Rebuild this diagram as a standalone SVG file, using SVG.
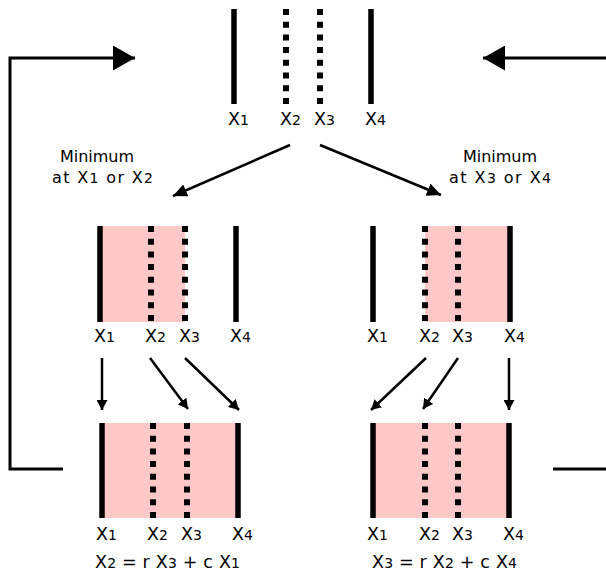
<svg xmlns="http://www.w3.org/2000/svg" width="606" height="577" viewBox="0 0 606 577">
  <style>
    .solid { stroke: #000; stroke-width: 5.5; fill: none; }
    .dot { stroke: #000; stroke-width: 6; fill: none; stroke-dasharray: 6 6.7; }
    .band { fill: #ffc8c8; }
    .lbl { font-family: "DejaVu Sans", "Liberation Sans", sans-serif; font-size: 17.5px; fill: #000; }
    .sub { font-size: 14px; }
    .note { font-family: "DejaVu Sans", "Liberation Sans", sans-serif; font-size: 16px; fill: #000; }
    .conn { stroke: #000; stroke-width: 2.5; fill: none; }
    .loop { stroke: #000; stroke-width: 3; fill: none; }
  </style>
  <defs>
    <marker id="head-s" markerUnits="userSpaceOnUse" markerWidth="11" markerHeight="11" refX="10" refY="5.5" orient="auto">
      <path d="M0,0 L10,5.5 L0,11 z" fill="#000"/>
    </marker>
    <marker id="head-m" markerUnits="userSpaceOnUse" markerWidth="15" markerHeight="13" refX="14" refY="6.5" orient="auto">
      <path d="M0,0 L14,6.5 L0,13 z" fill="#000"/>
    </marker>
    <marker id="head-l" markerUnits="userSpaceOnUse" markerWidth="23" markerHeight="25" refX="22" refY="12.5" orient="auto">
      <path d="M0,0 L22,12.5 L0,25 z" fill="#000"/>
    </marker>
  </defs>

  <!-- initial bracket: four probe points -->
  <g id="start">
    <line class="solid" x1="234" y1="9" x2="234" y2="104"/>
    <line class="dot" x1="286" y1="9" x2="286" y2="104"/>
    <line class="dot" x1="320" y1="9" x2="320" y2="104"/>
    <line class="solid" x1="371" y1="9" x2="371" y2="104"/>
    <text class="lbl" x="228" y="125">X<tspan class="sub">1</tspan></text>
    <text class="lbl" x="280" y="125">X<tspan class="sub">2</tspan></text>
    <text class="lbl" x="314" y="125">X<tspan class="sub">3</tspan></text>
    <text class="lbl" x="365" y="125">X<tspan class="sub">4</tspan></text>
  </g>

  <g id="case-left">
    <text class="note" x="97" y="162" text-anchor="middle">Minimum</text>
    <text class="note" x="52" y="183" textLength="101" lengthAdjust="spacing">at X<tspan class="sub">1</tspan> or X<tspan class="sub">2</tspan></text>
  </g>
  <g id="case-right">
    <text class="note" x="500" y="162" text-anchor="middle">Minimum</text>
    <text class="note" x="449" y="183" textLength="102" lengthAdjust="spacing">at X<tspan class="sub">3</tspan> or X<tspan class="sub">4</tspan></text>
  </g>

  <!-- kept interval [X1, X3] -->
  <g id="keep-left">
    <rect class="band" x="100" y="226" width="85" height="96"/>
    <line class="solid" x1="100" y1="226" x2="100" y2="322"/>
    <line class="dot" x1="151" y1="226" x2="151" y2="322"/>
    <line class="dot" x1="185" y1="226" x2="185" y2="322"/>
    <line class="solid" x1="236" y1="226" x2="236" y2="322"/>
    <text class="lbl" x="94" y="342">X<tspan class="sub">1</tspan></text>
    <text class="lbl" x="145" y="342">X<tspan class="sub">2</tspan></text>
    <text class="lbl" x="179" y="342">X<tspan class="sub">3</tspan></text>
    <text class="lbl" x="230" y="342">X<tspan class="sub">4</tspan></text>
  </g>

  <!-- kept interval [X2, X4] -->
  <g id="keep-right">
    <rect class="band" x="425" y="226" width="85" height="96"/>
    <line class="solid" x1="373" y1="226" x2="373" y2="322"/>
    <line class="dot" x1="425" y1="226" x2="425" y2="322"/>
    <line class="dot" x1="458" y1="226" x2="458" y2="322"/>
    <line class="solid" x1="510" y1="226" x2="510" y2="322"/>
    <text class="lbl" x="367" y="342">X<tspan class="sub">1</tspan></text>
    <text class="lbl" x="419" y="342">X<tspan class="sub">2</tspan></text>
    <text class="lbl" x="452" y="342">X<tspan class="sub">3</tspan></text>
    <text class="lbl" x="504" y="342">X<tspan class="sub">4</tspan></text>
  </g>

  <!-- relabelled bracket after the left case -->
  <g id="next-left">
    <rect class="band" x="102" y="423" width="136" height="95"/>
    <line class="solid" x1="102" y1="423" x2="102" y2="518"/>
    <line class="dot" x1="153" y1="423" x2="153" y2="518"/>
    <line class="dot" x1="187" y1="423" x2="187" y2="518"/>
    <line class="solid" x1="238" y1="423" x2="238" y2="518"/>
    <text class="lbl" x="96" y="540">X<tspan class="sub">1</tspan></text>
    <text class="lbl" x="147" y="540">X<tspan class="sub">2</tspan></text>
    <text class="lbl" x="181" y="540">X<tspan class="sub">3</tspan></text>
    <text class="lbl" x="232" y="540">X<tspan class="sub">4</tspan></text>
    <text class="lbl" x="95" y="568" textLength="145" lengthAdjust="spacing">X<tspan class="sub">2</tspan> = r X<tspan class="sub">3</tspan> + c X<tspan class="sub">1</tspan></text>
  </g>

  <!-- relabelled bracket after the right case -->
  <g id="next-right">
    <rect class="band" x="373" y="423" width="136" height="95"/>
    <line class="solid" x1="373" y1="423" x2="373" y2="518"/>
    <line class="dot" x1="425" y1="423" x2="425" y2="518"/>
    <line class="dot" x1="458" y1="423" x2="458" y2="518"/>
    <line class="solid" x1="509" y1="423" x2="509" y2="518"/>
    <text class="lbl" x="367" y="540">X<tspan class="sub">1</tspan></text>
    <text class="lbl" x="419" y="540">X<tspan class="sub">2</tspan></text>
    <text class="lbl" x="452" y="540">X<tspan class="sub">3</tspan></text>
    <text class="lbl" x="503" y="540">X<tspan class="sub">4</tspan></text>
    <text class="lbl" x="372" y="568" textLength="145" lengthAdjust="spacing">X<tspan class="sub">3</tspan> = r X<tspan class="sub">2</tspan> + c X<tspan class="sub">4</tspan></text>
  </g>

  <g id="connectors">
    <!-- branch on which side holds the minimum -->
    <line class="conn" x1="290" y1="145" x2="173" y2="196" marker-end="url(#head-m)"/>
    <line class="conn" x1="320" y1="145" x2="441" y2="195" marker-end="url(#head-m)"/>
    <!-- left case: points shift right -->
    <line class="conn" x1="102" y1="358" x2="102" y2="410" marker-end="url(#head-s)"/>
    <line class="conn" x1="150" y1="358" x2="188" y2="409" marker-end="url(#head-s)"/>
    <line class="conn" x1="185" y1="358" x2="239" y2="410" marker-end="url(#head-s)"/>
    <!-- right case: points shift left -->
    <line class="conn" x1="426" y1="358" x2="371" y2="410" marker-end="url(#head-s)"/>
    <line class="conn" x1="458" y1="358" x2="423" y2="409" marker-end="url(#head-s)"/>
    <line class="conn" x1="509" y1="358" x2="509" y2="410" marker-end="url(#head-s)"/>
    <!-- iterate loops -->
    <polyline class="loop" points="63,469 10,469 10,58 135,58" marker-end="url(#head-l)"/>
    <polyline class="loop" points="553,469 606,469"/>
    <line class="loop" x1="606" y1="58" x2="483" y2="58" marker-end="url(#head-l)"/>
  </g>
</svg>
